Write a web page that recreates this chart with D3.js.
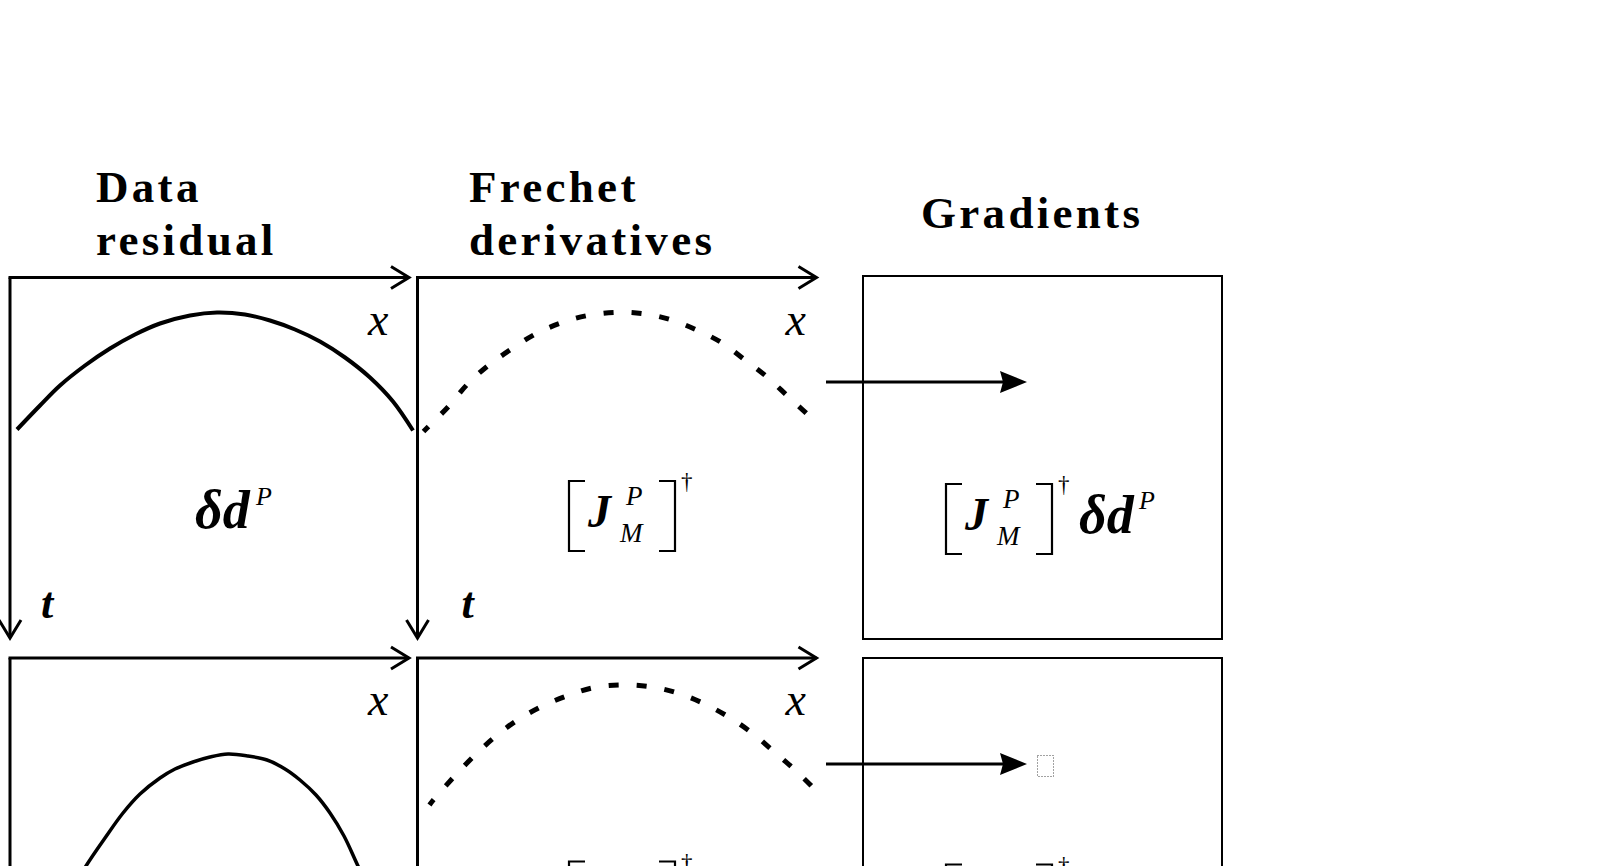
<!DOCTYPE html>
<html>
<head>
<meta charset="utf-8">
<script src="https://cdn.jsdelivr.net/npm/d3@7"></script>
<style>
  html, body { margin: 0; padding: 0; background: #fff; }
  svg { display: block; }
  .title { font-family: "Liberation Serif", "Times New Roman", serif; font-weight: bold; font-size: 45px; letter-spacing: 3.3px; fill: #000; }
  .math { font-family: "Liberation Serif", "Times New Roman", serif; fill: #000; }
</style>
</head>
<body>
<script>
// ---------------- data ----------------
const titleLines = [["Data", "residual"], ["Frechet", "derivatives"], ["Gradients"]];
const axisLabels = { x: "x", t: "t" };
const residualRow1 = [[7,152],[30,128],[50,108],[75,88],[100,71],[125,57],[150,46],[180,38],[207,35],[235,37],[260,43],[285,52],[310,64],[335,80],[360,100],[383,124],[403,153]];
const residualRow2 = [[55,245],[76,208],[95,180],[113,155],[130,136],[150,120],[165,111],[183,104],[200,99],[218,96],[238,98],[257,102],[275,111],[290,122],[306,137],[320,155],[334,178],[348,208],[366,245]];
const frechetRow1 = [[6,154],[10.8,149.2],[30.8,129.2],[49.2,107.5],[69.2,89.2],[92.5,72.5],[117.5,56.8],[142.5,45.8],[169.2,38.2],[199.2,34.8],[227.5,36.5],[254.2,42.5],[279.2,52.5],[304.2,65.2],[327.5,82.5],[349.2,99.2],[370.8,119.2],[392.5,139.2],[396,143]];
const frechetRow2 = [[12,147],[15.8,142],[34.2,121.3],[54.2,100.3],[75.8,80.3],[97.5,63.7],[122.5,49.3],[149.2,38],[175.8,29.7],[204.2,27],[232.5,28.7],[259.2,34.7],[285.8,45.3],[310.8,58.7],[334.2,74.7],[355.8,93],[377.5,112],[397.5,132],[400,136]];

// ---------------- layout ----------------
const W = 1604, H = 866;
const colX = [10, 417.5];
const rowY = [277.5, 658];
const axisLen = 399;          // horizontal axis length to arrow tip
const vAxisEnd = [638, 1000]; // vertical axis tip per row
const rowShift = rowY[1] - rowY[0];
const gradBox = { x: 863, w: 359, tops: [276, 658], bottoms: [639, 1100] };

const svg = d3.select("body").append("svg").attr("width", W).attr("height", H);
svg.append("rect").attr("width", W).attr("height", H).attr("fill", "#fff");

// titles
const titlePos = [[96, 202, 255], [469, 202, 255], [921, 228]];
titleLines.forEach((lines, i) => {
  lines.forEach((s, j) => {
    svg.append("text").attr("class", "title")
      .attr("x", titlePos[i][0]).attr("y", titlePos[i][1 + j]).text(s);
  });
});

function openArrow(g, x, y, dir) {
  const L = 18, S = 11;
  let d;
  if (dir === "right") d = `M${x - L},${y - S}L${x},${y}L${x - L},${y + S}`;
  else d = `M${x - S},${y - L}L${x},${y}L${x + S},${y - L}`;
  g.append("path").attr("d", d).attr("fill", "none").attr("stroke", "#000")
    .attr("stroke-width", 3).attr("stroke-linejoin", "miter").attr("stroke-miterlimit", 2);
}

const traces = [[residualRow1, frechetRow1], [residualRow2, frechetRow2]];
const visible = (top) => top < H; // only draw texts whose top lies inside the frame

rowY.forEach((oy, r) => {
  colX.forEach((ox, c) => {
    const g = svg.append("g");
    const xs = d3.scaleLinear().domain([0, 400]).range([ox, ox + 400]);
    const ts = d3.scaleLinear().domain([0, 360]).range([oy, oy + 360]);
    // axes
    g.append("line").attr("x1", ox - 1.5).attr("y1", oy).attr("x2", ox + axisLen).attr("y2", oy)
      .attr("stroke", "#000").attr("stroke-width", 3);
    openArrow(g, ox + axisLen, oy, "right");
    g.append("line").attr("x1", ox).attr("y1", oy).attr("x2", ox).attr("y2", vAxisEnd[r])
      .attr("stroke", "#000").attr("stroke-width", 3);
    openArrow(g, ox, vAxisEnd[r], "down");
    // trace
    const line = d3.line().x(d => xs(d[0])).y(d => ts(d[1])).curve(d3.curveCatmullRom);
    const p = g.append("path").datum(traces[r][c]).attr("d", line)
      .attr("fill", "none").attr("stroke", "#000");
    if (c === 0) p.attr("stroke-width", r === 0 ? 4 : 3.5);
    else p.attr("stroke-width", 5).attr("stroke-dasharray", "10,18").attr("stroke-dashoffset", 3);
    // axis labels
    g.append("text").attr("class", "math").attr("font-style", "italic")
      .attr("font-size", 46).attr("x", ox + (c === 0 ? 358 : 368)).attr("y", oy + 57).text(axisLabels.x);
    if (visible(oy + 340 - 30)) {
      g.append("text").attr("class", "math").attr("font-style", "italic").attr("font-weight", "bold")
        .attr("font-size", 44).attr("x", ox + (c === 0 ? 31 : 44)).attr("y", oy + 340).text(axisLabels.t);
    }
  });

  // gradient box
  svg.append("rect").attr("x", gradBox.x).attr("y", gradBox.tops[r])
    .attr("width", gradBox.w).attr("height", gradBox.bottoms[r] - gradBox.tops[r])
    .attr("fill", "none").attr("stroke", "#000").attr("stroke-width", 2);

  // arrow into gradient box
  const ay = 382 + r * rowShift + (r === 1 ? 1.5 : 0);
  svg.append("line").attr("x1", 826).attr("y1", ay).attr("x2", 1004).attr("y2", ay)
    .attr("stroke", "#000").attr("stroke-width", 3);
  svg.append("path").attr("d", `M1027,${ay}L1000,${ay - 11}L1003,${ay}L1000,${ay + 11}Z`).attr("fill", "#000");
  if (r === 1) {
    svg.append("rect").attr("x", 1037.5).attr("y", 755.5).attr("width", 16).attr("height", 21)
      .attr("fill", "none").attr("stroke", "#444").attr("stroke-width", 1).attr("stroke-dasharray", "1,2");
  }

  // formulas
  const dy = r * rowShift;
  const f = svg.append("g").attr("transform", `translate(0,${dy})`);
  function txt(x, y, s, size, bold) {
    if (!visible(y + dy - size * 0.7)) return;
    f.append("text").attr("class", "math").attr("font-style", "italic")
      .attr("font-weight", bold ? "bold" : "normal").attr("font-size", size)
      .attr("x", x).attr("y", y).text(s);
  }
  function bracket(x0, x1, y0, y1, left) {
    const d = left ? `M${x1},${y0}H${x0}V${y1}H${x1}` : `M${x0},${y0}H${x1}V${y1}H${x0}`;
    f.append("path").attr("d", d).attr("fill", "none").attr("stroke", "#000").attr("stroke-width", 2.2);
  }
  function jacobian(ox, oy) {
    bracket(569 + ox, 585 + ox, 481 + oy, 551 + oy, true);
    bracket(659 + ox, 675 + ox, 481 + oy, 551 + oy, false);
    txt(588 + ox, 527 + oy, "J", 46, true);
    txt(626 + ox, 505 + oy, "P", 27, false);
    txt(620 + ox, 542 + oy, "M", 27, false);
    f.append("text").attr("class", "math").attr("font-size", 23)
      .attr("x", 681 + ox).attr("y", 489 + oy).text("\u2020");
  }
  // data residual
  txt(195, 528, "\u03B4d", 54, true);
  txt(256, 505, "P", 26, false);
  // frechet
  jacobian(0, 0);
  // gradient
  jacobian(377, 3);
  txt(1079, 533, "\u03B4d", 54, true);
  txt(1139, 509, "P", 26, false);
});
</script>
</body>
</html>
